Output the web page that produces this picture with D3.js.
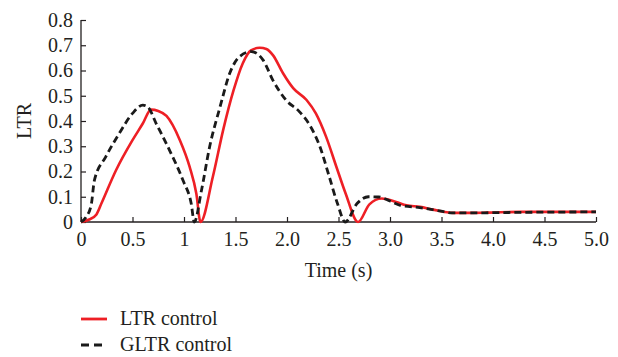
<!DOCTYPE html>
<html>
<head>
<meta charset="utf-8">
<script src="https://cdn.jsdelivr.net/npm/d3@7"></script>
<style>
  html, body { margin: 0; padding: 0; background: #fff; }
  svg { display: block; }
  text { font-family: "Liberation Serif", "Times New Roman", serif; fill: #231f20; }
</style>
</head>
<body>
<svg id="chart" width="618" height="357"></svg>
<script>
// Time samples (s) and LTR values for each control strategy
const ltrTime = [0, 0.08, 0.15, 0.2, 0.34, 0.5, 0.6, 0.68, 0.75, 0.83, 0.96, 1.055, 1.12, 1.16,
  1.28, 1.38, 1.48, 1.57, 1.65, 1.735, 1.8, 1.865, 1.96, 2.06, 2.19, 2.28, 2.38, 2.48, 2.57, 2.69,
  2.8, 2.92, 3.06, 3.16, 3.29, 3.42, 3.61, 3.74, 3.94, 4.26, 4.6, 5.0];
const ltrValue = [0, 0.01, 0.03, 0.075, 0.205, 0.324, 0.39, 0.445, 0.44, 0.42, 0.324, 0.218, 0.112, 0,
  0.179, 0.364, 0.52, 0.628, 0.68, 0.69, 0.685, 0.66, 0.59, 0.53, 0.483, 0.43, 0.337, 0.218, 0.112, 0,
  0.07, 0.093, 0.079, 0.066, 0.06, 0.049, 0.036, 0.036, 0.037, 0.04, 0.04, 0.04];

const gltrTime = [0, 0.05, 0.1, 0.13, 0.24, 0.37, 0.5, 0.6, 0.65, 0.73, 0.86, 0.99, 1.07, 1.10,
  1.17, 1.25, 1.35, 1.445, 1.54, 1.655, 1.77, 1.865, 1.99, 2.12, 2.22, 2.32, 2.41, 2.49, 2.565,
  2.68, 2.79, 2.89, 3.0, 3.1, 3.29, 3.48, 3.61, 3.81, 4.0, 4.5, 5.0];
const gltrValue = [0, 0.02, 0.07, 0.165, 0.258, 0.35, 0.43, 0.463, 0.455, 0.39, 0.284, 0.165, 0.073, 0,
  0.126, 0.30, 0.456, 0.59, 0.655, 0.675, 0.64, 0.56, 0.483, 0.437, 0.384, 0.298, 0.18, 0.073, 0,
  0.073, 0.10, 0.099, 0.083, 0.066, 0.057, 0.044, 0.036, 0.036, 0.037, 0.039, 0.04];

const xTicks = [0, 0.5, 1, 1.5, 2, 2.5, 3, 3.5, 4, 4.5, 5];
const xTickLabels = ["0", "0.5", "1", "1.5", "2.0", "2.5", "3.0", "3.5", "4.0", "4.5", "5.0"];
const yTicks = [0, 0.1, 0.2, 0.3, 0.4, 0.5, 0.6, 0.7, 0.8];
const yTickLabels = ["0", "0.1", "0.2", "0.3", "0.4", "0.5", "0.6", "0.7", "0.8"];

const seriesNames = ["LTR control", "GLTR control"];
const seriesColors = ["#ee1f25", "#1a1a1a"];

const svg = d3.select("#chart");
const fontSize = 20;

const x = d3.scaleLinear().domain([0, 5]).range([81, 596]);
const y = d3.scaleLinear().domain([0, 0.8]).range([222, 20]);

// Axes with inward ticks
const xAxis = d3.axisBottom(x).tickValues(xTicks).tickSize(-5).tickPadding(10)
  .tickFormat((d, i) => xTickLabels[i]);
const yAxis = d3.axisLeft(y).tickValues(yTicks).tickSize(-5).tickPadding(8)
  .tickFormat((d, i) => yTickLabels[i]);

const gx = svg.append("g").attr("transform", `translate(0,${y(0)})`).call(xAxis);
const gy = svg.append("g").attr("transform", `translate(${x(0)},0)`).call(yAxis);

[gx, gy].forEach(g => {
  g.select(".domain").attr("stroke", "#231f20").attr("stroke-width", 1.3);
  g.selectAll(".tick line").attr("stroke", "#231f20").attr("stroke-width", 1.2);
  g.selectAll(".tick text")
    .style("font-family", '"Liberation Serif", serif')
    .style("font-size", fontSize + "px")
    .attr("fill", "#231f20");
});
gx.select(".domain").attr("d", `M${x(0)},0H${x(5)}`);
gy.select(".domain").attr("d", `M0,${y(0)}V${y(0.8)}`);

// Axis titles
svg.append("text")
  .attr("x", (x(0) + x(5)) / 2).attr("y", 277)
  .attr("text-anchor", "middle")
  .style("font-size", fontSize + "px")
  .text("Time (s)");

svg.append("text")
  .attr("transform", `translate(31,${(y(0) + y(0.8)) / 2}) rotate(-90)`)
  .attr("text-anchor", "middle")
  .style("font-size", fontSize + "px")
  .text("LTR");

// Curves
const line = d3.line()
  .x(d => x(d[0]))
  .y(d => y(d[1]))
  .curve(d3.curveMonotoneX);

const ltrData = ltrTime.map((t, i) => [t, ltrValue[i]]);
const gltrData = gltrTime.map((t, i) => [t, gltrValue[i]]);

svg.append("path")
  .datum(ltrData)
  .attr("d", line)
  .attr("fill", "none")
  .attr("stroke", seriesColors[0])
  .attr("stroke-width", 2.6)
  .attr("stroke-linejoin", "round");

svg.append("path")
  .datum(gltrData)
  .attr("d", line)
  .attr("fill", "none")
  .attr("stroke", seriesColors[1])
  .attr("stroke-width", 2.8)
  .attr("stroke-dasharray", "7,4");

// Legend
const legend = svg.append("g");
const legendRows = [
  { y: 319, dash: null },
  { y: 345, dash: "8,5" }
];
legendRows.forEach((row, i) => {
  legend.append("line")
    .attr("x1", 81).attr("x2", 107)
    .attr("y1", row.y).attr("y2", row.y)
    .attr("stroke", seriesColors[i])
    .attr("stroke-width", 2.8)
    .attr("stroke-dasharray", row.dash);
  legend.append("text")
    .attr("x", 120).attr("y", row.y + 6)
    .style("font-size", fontSize + "px")
    .text(seriesNames[i]);
});
</script>
</body>
</html>
